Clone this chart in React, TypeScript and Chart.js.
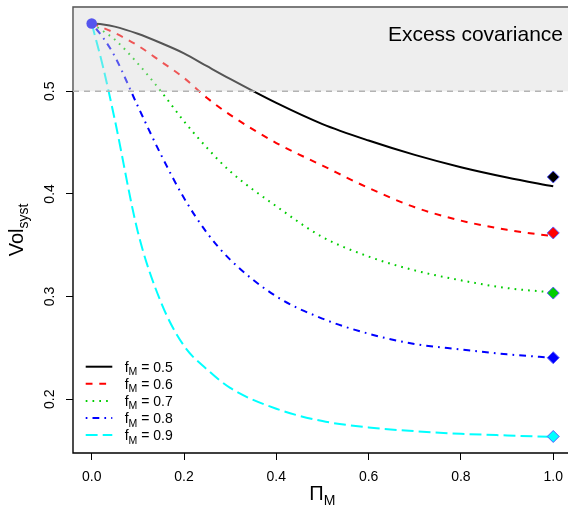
import React, { useEffect, useRef } from "react";
import { Chart, registerables } from "chart.js";

Chart.register(...registerables);

// ---- data ----
const PI_M = [0, 0.025, 0.05, 0.1, 0.15, 0.2, 0.25, 0.3, 0.4, 0.5, 0.6, 0.7, 0.8, 0.9, 1.0];
const VOL_F05 = [0.566, 0.565, 0.563, 0.556, 0.547, 0.537, 0.5244, 0.512, 0.4886, 0.468, 0.452, 0.438, 0.426, 0.416, 0.4074];
const VOL_F06 = [0.566, 0.5617, 0.5568, 0.5445, 0.529, 0.513, 0.4935, 0.477, 0.4496, 0.4276, 0.4058, 0.387, 0.374, 0.365, 0.3587];
const VOL_F07 = [0.566, 0.5585, 0.5504, 0.527, 0.5, 0.4708, 0.4448, 0.422, 0.388, 0.358, 0.339, 0.3255, 0.3158, 0.3083, 0.304];
const VOL_F08 = [0.566, 0.552, 0.534, 0.4854, 0.4383, 0.396, 0.362, 0.336, 0.3002, 0.2785, 0.2638, 0.2538, 0.2485, 0.2437, 0.2404];
const VOL_F09 = [0.566, 0.523, 0.4724, 0.363, 0.2946, 0.252, 0.229, 0.211, 0.1907, 0.1787, 0.1725, 0.1689, 0.1663, 0.1647, 0.1633];
const F_M = ["0.5", "0.6", "0.7", "0.8", "0.9"];
const END_PI = [1, 1, 1, 1, 1];
const END_VOL = [0.4165, 0.362, 0.3034, 0.2404, 0.1637];
const START_PI = [0];
const START_VOL = [0.566];
const THRESHOLD = 0.5;
const X_TICKS = [0, 0.2, 0.4, 0.6, 0.8, 1.0];
const Y_TICKS = [0.2, 0.3, 0.4, 0.5];
const X_RANGE = [-0.0405, 1.032];
const X_BOX_RIGHT = 1.04;
const Y_RANGE = [0.1476, 0.5821];
const SHADE_LABEL = "Excess covariance";

// ---- styles ----
const FONT = '"Liberation Sans", Arial, Helvetica, sans-serif';
const S = 1.7;
const CURVE_STYLES = [
  { color: "#000000", dash: [] as number[] },
  { color: "#ff0000", dash: [4 * S, 4 * S] },
  { color: "#00cd00", dash: [1 * S, 3 * S] },
  { color: "#0000ff", dash: [1 * S, 3 * S, 4 * S, 3 * S] },
  { color: "#00ffff", dash: [7 * S, 3 * S] },
];
const SERIES = [VOL_F05, VOL_F06, VOL_F07, VOL_F08, VOL_F09];

const decorPlugin = {
  id: "rDecor",
  afterLayout(chart: any) {
    // let the plot region run to the canvas' right edge, as in the reference
    const a = chart.chartArea;
    const x = chart.scales.x;
    const target = chart.width;
    if (a.right !== target) {
      a.right = target;
      a.width = a.right - a.left;
      x.right = target;
      x.width = target - x.left;
      x.configure();
    }
  },
  beforeDatasetsDraw(chart: any) {
    const { ctx, chartArea: a, scales } = chart;
    const right = scales.x.getPixelForValue(X_BOX_RIGHT);
    ctx.save();
    ctx.strokeStyle = "#000";
    ctx.lineWidth = 1.4;
    ctx.beginPath();
    ctx.moveTo(right, a.top);
    ctx.lineTo(a.left, a.top);
    ctx.lineTo(a.left, a.bottom);
    ctx.lineTo(right, a.bottom);
    ctx.stroke();
    ctx.restore();
  },
  afterDatasetsDraw(chart: any) {
    const { ctx, chartArea: a, scales } = chart;
    const yT = scales.y.getPixelForValue(THRESHOLD);
    const right = scales.x.getPixelForValue(X_BOX_RIGHT);
    ctx.save();
    ctx.fillStyle = "rgba(212,212,212,0.4)";
    ctx.fillRect(a.left - 1, a.top - 1, right - a.left + 2, yT - a.top + 1);
    ctx.strokeStyle = "#b3b3b3";
    ctx.lineWidth = 1.5;
    ctx.setLineDash([6, 5]);
    ctx.beginPath();
    ctx.moveTo(a.left, yT);
    ctx.lineTo(right, yT);
    ctx.stroke();
    ctx.setLineDash([]);
    ctx.fillStyle = "#000";
    ctx.font = `21px ${FONT}`;
    ctx.textAlign = "right";
    ctx.textBaseline = "alphabetic";
    ctx.fillText(SHADE_LABEL, 563, 40.5);
    ctx.restore();
  },
  afterDraw(chart: any) {
    const { ctx, chartArea: a } = chart;
    ctx.save();
    ctx.fillStyle = "#000";
    ctx.textBaseline = "alphabetic";
    ctx.textAlign = "left";
    // legend
    const x0 = 85.7, x1 = 112.3, tx = 124.7;
    F_M.forEach((f, i) => {
      const y = 366.7 + i * 17.1;
      const st = CURVE_STYLES[i];
      ctx.strokeStyle = st.color;
      ctx.lineWidth = 2;
      ctx.setLineDash(st.dash);
      ctx.beginPath();
      ctx.moveTo(x0, y);
      ctx.lineTo(x1, y);
      ctx.stroke();
      ctx.setLineDash([]);
      const base = y + 5;
      ctx.font = `14px ${FONT}`;
      ctx.fillText("f", tx, base);
      let x = tx + ctx.measureText("f").width;
      ctx.font = `10.5px ${FONT}`;
      ctx.fillText("M", x, base + 3.5);
      x += ctx.measureText("M").width;
      ctx.font = `14px ${FONT}`;
      ctx.fillText(" = " + f, x, base);
    });
    // x title
    ctx.font = `20px ${FONT}`;
    const wPi = ctx.measureText("Π").width;
    ctx.font = `14px ${FONT}`;
    const wM = ctx.measureText("M").width;
    const cx = (a.left + chart.scales.x.getPixelForValue(X_BOX_RIGHT)) / 2;
    const sx = cx - (wPi + wM) / 2;
    ctx.font = `20px ${FONT}`;
    ctx.fillText("Π", sx, 500);
    ctx.font = `14px ${FONT}`;
    ctx.fillText("M", sx + wPi, 505);
    // y title
    ctx.translate(23, (a.top + a.bottom) / 2);
    ctx.rotate(-Math.PI / 2);
    ctx.font = `20px ${FONT}`;
    const wV = ctx.measureText("Vol").width;
    ctx.font = `14px ${FONT}`;
    const wS = ctx.measureText("syst").width;
    const sy = -(wV + wS) / 2;
    ctx.font = `20px ${FONT}`;
    ctx.fillText("Vol", sy, 0);
    ctx.font = `14px ${FONT}`;
    ctx.fillText("syst", sy + wV, 5);
    ctx.restore();
  },
};

export default function App() {
  const ref = useRef<HTMLCanvasElement | null>(null);
  useEffect(() => {
    if (!ref.current) return;
    const curveSets = SERIES.map((vals, i) => ({
      type: "scatter" as const,
      label: "f_M = " + F_M[i],
      data: PI_M.map((p, j) => ({ x: p, y: vals[j] })),
      showLine: true,
      borderColor: CURVE_STYLES[i].color,
      borderDash: CURVE_STYLES[i].dash,
      borderWidth: 2,
      pointRadius: 0,
      cubicInterpolationMode: "monotone" as const,
      order: 5,
    }));
    const chart = new Chart(ref.current, {
      type: "scatter",
      data: {
        datasets: [
          ...curveSets,
          {
            type: "scatter",
            label: "end",
            data: END_PI.map((p, i) => ({ x: p, y: END_VOL[i] })),
            pointStyle: "rectRot",
            pointRadius: 6,
            pointBackgroundColor: CURVE_STYLES.map((s) => s.color),
            pointBorderColor: "#5a5aff",
            pointBorderWidth: 1,
            showLine: false,
            order: 1,
          },
          {
            type: "scatter",
            label: "start",
            data: START_PI.map((p, i) => ({ x: p, y: START_VOL[i] })),
            pointStyle: "circle",
            pointRadius: 5.3,
            pointBackgroundColor: "#0000ff",
            pointBorderWidth: 0,
            showLine: false,
            order: 0,
          },
        ] as any,
      },
      options: {
        animation: false,
        responsive: false,
        devicePixelRatio: 1,
        layout: { padding: { top: 6, left: 0, right: 0, bottom: 0 } },
        plugins: { legend: { display: false }, tooltip: { enabled: false } },
        scales: {
          x: {
            type: "linear",
            min: X_RANGE[0],
            max: X_RANGE[1],
            afterBuildTicks: (s: any) => {
              s.ticks = X_TICKS.map((v) => ({ value: v }));
            },
            afterFit: (s: any) => {
              s.height = 53;
              s.paddingLeft = 0;
              s.paddingRight = 0;
            },
            grid: { drawOnChartArea: false, drawTicks: true, tickLength: 7, color: "#000", lineWidth: 1 },
            border: { display: false },
            ticks: {
              color: "#000",
              font: { family: FONT, size: 14 },
              padding: 9,
              maxRotation: 0,
              minRotation: 0,
              callback: (v: any) => Number(v).toFixed(1),
            },
          },
          y: {
            type: "linear",
            min: Y_RANGE[0],
            max: Y_RANGE[1],
            afterBuildTicks: (s: any) => {
              s.ticks = Y_TICKS.map((v) => ({ value: v }));
            },
            afterFit: (s: any) => {
              s.width = 73;
              s.paddingTop = 0;
              s.paddingBottom = 0;
            },
            grid: { drawOnChartArea: false, drawTicks: true, tickLength: 7, color: "#000", lineWidth: 1 },
            border: { display: false },
            ticks: {
              color: "#000",
              font: { family: FONT, size: 14 },
              padding: 6,
              minRotation: 90,
              maxRotation: 90,
              crossAlign: "center",
              callback: (v: any) => Number(v).toFixed(1),
            },
          },
        },
      },
      plugins: [decorPlugin],
    });
    return () => chart.destroy();
  }, []);
  return (
    <div style={{ position: "absolute", left: 0, top: 0, width: 568, height: 506, background: "#fff" }}>
      <canvas ref={ref} width={568} height={506} style={{ display: "block" }} />
    </div>
  );
}
